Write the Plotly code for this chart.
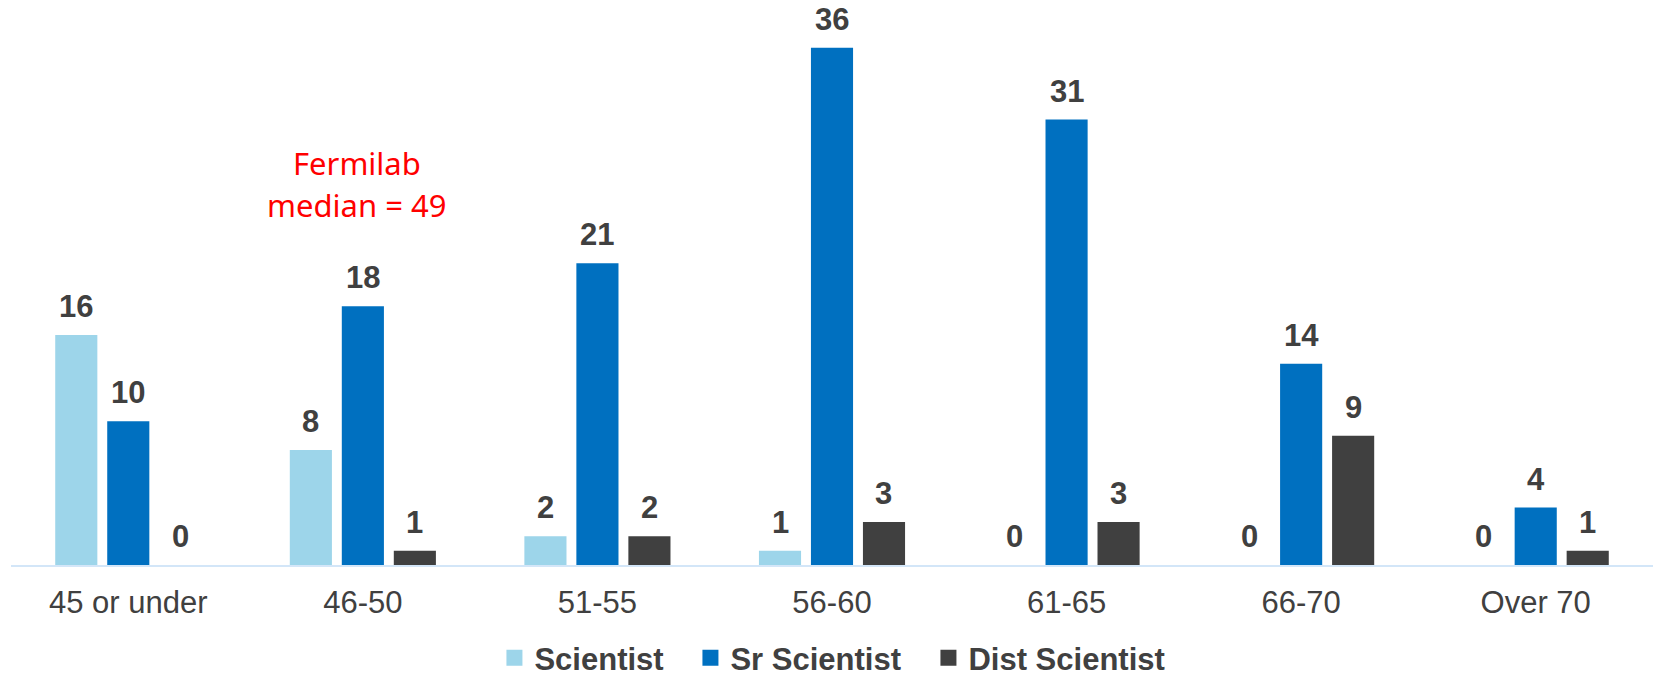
import plotly.graph_objects as go

categories = ["45 or under", "46-50", "51-55", "56-60", "61-65", "66-70", "Over 70"]
series_names = ["Scientist", "Sr Scientist", "Dist Scientist"]
scientist = [16, 8, 2, 1, 0, 0, 0]
sr_scientist = [10, 18, 21, 36, 31, 14, 4]
dist_scientist = [0, 1, 2, 3, 3, 9, 1]
series_values = [scientist, sr_scientist, dist_scientist]
colors = ["#9DD5EA", "#0070C0", "#404040"]
legend_widths = [151, 193, 200]

annotation_lines = ["Fermilab", "median = 49"]

W, H = 1653, 677
ML, MR, MT, MB = 11, 0, 19, 112
BARGAP = 0.335
BARGROUPGAP = 0.19

fig = go.Figure()
for name, vals, col in zip(series_names, series_values, colors):
    fig.add_trace(go.Bar(
        x=categories, y=vals, name=name,
        marker=dict(color=col, line=dict(width=0)),
        cliponaxis=False, showlegend=False,
    ))
# legend entries with square swatches
for name, col, lw in zip(series_names, colors, legend_widths):
    fig.add_trace(go.Scatter(
        x=[None], y=[None], mode="markers", name=name,
        marker=dict(symbol="square", size=20, color=col),
        showlegend=True, legendwidth=lw,
    ))

# data labels via annotations, offset per series within the group
cat_px = (W - ML - MR) / len(categories)
slot = cat_px * (1 - BARGAP) / len(series_names)
annotations = []
for i, vals in enumerate(series_values):
    off = (i - (len(series_names) - 1) / 2) * slot
    for c, v in zip(categories, vals):
        annotations.append(dict(
            x=c, y=v, xref="x", yref="y", text=f"<b>{v}</b>",
            showarrow=False, xshift=off, yshift=9, yanchor="bottom",
            font=dict(family="Liberation Sans, Arial", size=31, color="#404040"),
        ))

for k, line in enumerate(annotation_lines):
    annotations.append(dict(
        x=categories[1], y=28.0, xref="x", yref="y", xshift=-6, yshift=-42 * k,
        text=line, showarrow=False,
        font=dict(family="Noto Sans", size=31, color="#FF0000"),
        align="center",
    ))

fig.update_layout(
    width=W, height=H,
    margin=dict(l=ML, r=MR, t=MT, b=MB),
    paper_bgcolor="white", plot_bgcolor="white",
    barmode="group", bargap=BARGAP, bargroupgap=BARGROUPGAP,
    showlegend=True,
    legend=dict(
        orientation="h", xref="container", yref="container",
        x=0.5045, xanchor="center", y=1 - 658 / 677, yanchor="middle",
        font=dict(family="Liberation Sans, Arial", size=31, color="#404040", weight="bold"),
        itemsizing="trace", itemwidth=30, traceorder="normal",
    ),
    annotations=annotations,
    font=dict(family="Liberation Sans, Arial", color="#404040"),
)
fig.update_xaxes(
    showline=True, linecolor="#D3E6F8", linewidth=2,
    ticks="outside", ticklen=9, tickcolor="rgba(0,0,0,0)",
    tickfont=dict(family="Liberation Sans, Arial", size=31, color="#404040"),
    showgrid=False, zeroline=False, automargin=False,
)
fig.update_yaxes(range=[0, 38], visible=False, showgrid=False, zeroline=False)

fig.write_html("out.html")
